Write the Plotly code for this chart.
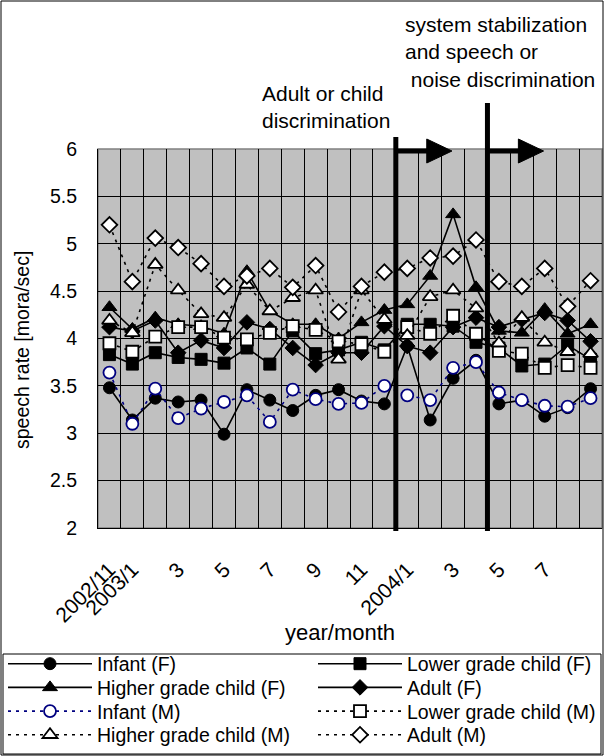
import plotly.graph_objects as go

months = ["2002/11", "2003/1", "2003/2", "2003/3", "2003/4", "2003/5", "2003/6",
          "2003/7", "2003/8", "2003/9", "2003/10", "2003/11", "2003/12",
          "2004/1", "2004/2", "2004/3", "2004/4", "2004/5", "2004/6", "2004/7",
          "2004/8", "2004/9"]
tick_months = ["2002/11", "2003/1", "2003/3", "2003/5", "2003/7", "2003/9", "2003/11",
               "2004/1", "2004/3", "2004/5", "2004/7"]
tick_text = ["2002/11", "2003/1", "3", "5", "7", "9", "11", "2004/1", "3", "5", "7"]

infant_f = [3.48, 3.14, 3.37, 3.33, 3.35, 2.99, 3.46, 3.35, 3.24, 3.40, 3.46, 3.34,
            3.31, 3.92, 3.14, 3.58, 3.77, 3.31, 3.35, 3.18, 3.27, 3.47]
lower_f = [3.83, 3.73, 3.85, 3.80, 3.78, 3.74, 3.90, 3.73, 4.08, 3.84, 3.88, 3.96,
           3.88, 4.15, 4.15, 4.13, 3.96, 3.90, 3.71, 3.73, 3.93, 3.78]
higher_f = [4.33, 4.10, 4.22, 4.15, 4.13, 4.05, 4.71, 4.29, 4.15, 4.15, 4.00, 4.17,
            4.30, 4.36, 4.66, 5.31, 4.54, 4.08, 4.06, 4.31, 4.05, 4.15]
adult_f = [4.12, 4.08, 4.19, 3.85, 3.98, 3.90, 4.17, 4.10, 3.90, 3.72, 3.85, 3.85,
           4.13, 3.92, 3.85, 4.12, 4.22, 4.12, 4.20, 4.27, 4.19, 3.97]
infant_m = [3.64, 3.10, 3.47, 3.16, 3.26, 3.33, 3.40, 3.12, 3.46, 3.36, 3.31, 3.32,
            3.50, 3.40, 3.35, 3.69, 3.75, 3.43, 3.35, 3.29, 3.28, 3.37]
lower_m = [3.95, 3.86, 4.02, 4.12, 4.12, 4.01, 3.99, 4.06, 4.13, 4.09, 3.97, 3.94,
           3.86, 4.12, 4.05, 4.24, 4.05, 3.87, 3.84, 3.69, 3.72, 3.69]
higher_m = [4.19, 4.06, 4.78, 4.51, 4.26, 4.22, 4.57, 4.29, 4.43, 4.51, 3.78, 4.51,
            4.20, 4.03, 4.44, 4.51, 4.32, 3.95, 4.22, 3.96, 3.86, 3.84]
adult_m = [5.20, 4.60, 5.06, 4.96, 4.79, 4.55, 4.66, 4.74, 4.54, 4.77, 4.28, 4.55,
           4.70, 4.74, 4.85, 4.87, 5.04, 4.60, 4.55, 4.74, 4.34, 4.61]

event_after = ["2003/12", "2004/4"]

W, H = 604, 756
ML, MR, MT, MB = 98, 2, 149, 228
PW, PH = W - ML - MR, H - MT - MB

def px_x(px):
    return (px - ML) / PW

def px_y(py):
    return (H - MB - py) / PH

x = list(range(len(months)))

series = [
    ("Infant (F)", infant_f, "circle", "black", "black", "solid"),
    ("Lower grade child (F)", lower_f, "square", "black", "black", "solid"),
    ("Higher grade child (F)", higher_f, "triangle-up", "black", "black", "solid"),
    ("Adult (F)", adult_f, "diamond", "black", "black", "solid"),
    ("Infant (M)", infant_m, "circle", "white", "#000080", "3px,5px"),
    ("Lower grade child (M)", lower_m, "square", "white", "black", "3px,5px"),
    ("Higher grade child (M)", higher_m, "triangle-up", "white", "black", "3px,5px"),
    ("Adult (M)", adult_m, "diamond", "white", "black", "3px,5px"),
]

font = "Liberation Sans, Arial, sans-serif"
fig = go.Figure()
legends = {}
for i, (name, vals, sym, fill, edge, dash) in enumerate(series):
    size = 12 if sym != "triangle-up" else 13
    leg = "legend" if i == 0 else f"legend{i + 1}"
    row, col = divmod(i, 2)
    legends[leg] = dict(
        orientation="v", xanchor="left", yanchor="middle",
        x=px_x(3 if col == 0 else 313), y=px_y(664 + 23.7 * row),
        itemwidth=84, borderwidth=0, bgcolor="rgba(0,0,0,0)",
        font=dict(size=19.5, family=font, color="black"))
    fig.add_trace(go.Scatter(
        x=x, y=vals, name=name, mode="lines+markers", legend=leg,
        line=dict(color=edge, width=1.6, dash=dash),
        marker=dict(symbol=sym, size=size, color=fill,
                    line=dict(color=edge, width=1.8 if fill == "white" else 1)),
    ))

shapes = []
# outer chart frame
shapes.append(dict(type="rect", xref="paper", yref="paper",
                   x0=px_x(1), x1=px_x(603), y0=px_y(755), y1=px_y(1),
                   line=dict(color="black", width=1)))
# legend box
shapes.append(dict(type="rect", xref="paper", yref="paper",
                   x0=px_x(3), x1=px_x(601), y0=px_y(754), y1=px_y(654),
                   line=dict(color="black", width=1)))
# plot border (gray top/right)
shapes.append(dict(type="rect", xref="paper", yref="paper", x0=0, x1=1, y0=0, y1=1,
                   line=dict(color="#808080", width=1.5), layer="below"))
tops = [px_y(137), px_y(103)]
for i, m in enumerate(event_after):
    xe = months.index(m) + 0.5
    shapes.append(dict(type="line", xref="x", yref="paper", x0=xe, x1=xe,
                       y0=px_y(531), y1=tops[i], line=dict(color="black", width=5)))
    ya = px_y(151)
    shapes.append(dict(type="line", xref="x", yref="paper", x0=xe, x1=xe + 1.4,
                       y0=ya, y1=ya, line=dict(color="black", width=5)))
    shapes.append(dict(type="path", xref="x", yref="paper",
                       path=f"M {xe + 1.35} {px_y(139)} L {xe + 2.45} {ya} L {xe + 1.35} {px_y(163)} Z",
                       fillcolor="black", line=dict(color="black", width=1)))

annotations = [
    dict(text="Adult or child<br>discrimination", xref="paper", yref="paper",
         x=px_x(260), y=px_y(107), xanchor="left", yanchor="middle", align="left",
         showarrow=False, font=dict(size=21, color="black", family=font)),
    dict(text="system stabilization<br>and speech or<br> noise discrimination",
         xref="paper", yref="paper", x=px_x(403), y=px_y(52), xanchor="left",
         yanchor="middle", align="left", showarrow=False,
         font=dict(size=21, color="black", family=font)),
    dict(text="speech rate [mora/sec]", xref="paper", yref="paper",
         x=px_x(22), y=px_y(350), xanchor="center", yanchor="middle",
         textangle=-90, showarrow=False,
         font=dict(size=19.5, color="black", family=font)),
    dict(text="year/month", xref="paper", yref="paper",
         x=px_x(340), y=px_y(632), xanchor="center", yanchor="middle",
         showarrow=False, font=dict(size=22, color="black", family=font)),
]

fig.update_layout(
    width=W, height=H, margin=dict(l=ML, r=MR, t=MT, b=MB, autoexpand=False),
    paper_bgcolor="white", plot_bgcolor="#c0c0c0",
    font=dict(family=font, color="black", size=17),
    shapes=shapes, annotations=annotations,
    showlegend=True,
    xaxis=dict(range=[-0.5, len(months) - 0.5], tickmode="array",
               tickvals=[months.index(m) for m in tick_months], ticktext=tick_text,
               tickangle=-45, showgrid=False, zeroline=False,
               showline=True, linecolor="black", linewidth=1, ticks="",
               ticklabelstandoff=20,
               tickfont=dict(size=21, family=font, color="black"),
               minor=dict(tick0=-0.5, dtick=1, showgrid=True, gridcolor="black",
                          gridwidth=1, ticks="")),
    yaxis=dict(range=[2, 6], dtick=0.5, tick0=2, showgrid=True, gridcolor="black",
               gridwidth=1, zeroline=False, showline=True, linecolor="black",
               linewidth=1, ticks="", ticklabelstandoff=16,
               tickfont=dict(size=19.5, family=font, color="black")),
)
fig.update_layout(**legends)

fig.write_html("out.html", config={"displayModeBar": False},
               post_script="document.body.style.margin='0px';")
